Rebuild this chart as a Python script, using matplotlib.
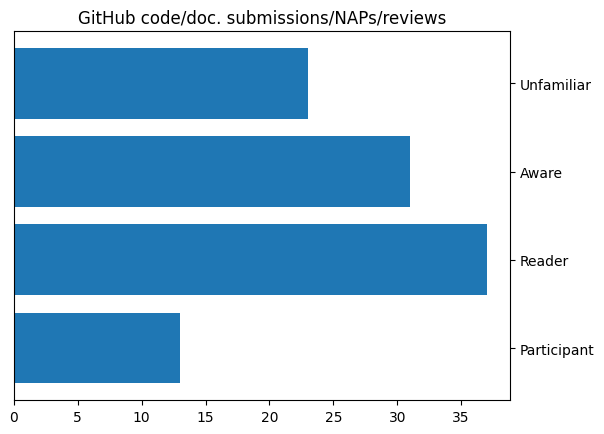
import matplotlib
matplotlib.use('Agg')
import matplotlib.pyplot as plt

categories = ['Participant', 'Reader', 'Aware', 'Unfamiliar']
counts = [13, 37, 31, 23]

fig, ax = plt.subplots(figsize=(6.04, 4.35), dpi=100)
fig.subplots_adjust(left=0.023, right=0.845, top=0.926, bottom=0.078)

ax.barh(categories, counts, color='#1f77b4')
ax.yaxis.tick_right()
ax.set_title('GitHub code/doc. submissions/NAPs/reviews')

fig.savefig('out.png', dpi=100)
